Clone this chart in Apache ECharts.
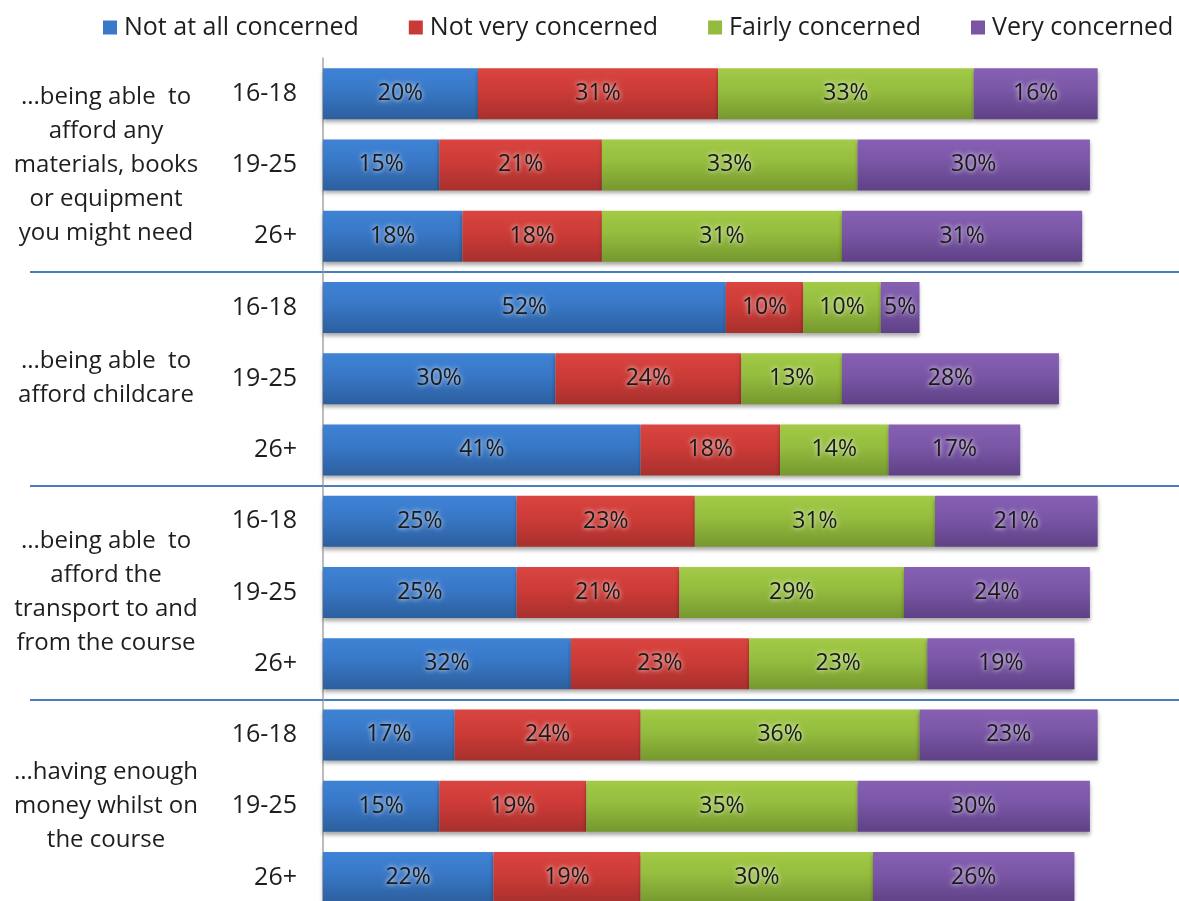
<!DOCTYPE html>
<html>
<head>
<meta charset="utf-8">
<script src="https://cdn.jsdelivr.net/npm/echarts@6/dist/echarts.min.js"></script>
<style>
  html, body { margin: 0; padding: 0; background: #ffffff; overflow: hidden; }
  #chart { width: 1179px; height: 916px; }
</style>
</head>
<body>
<div id="chart"></div>
<script>
// Age bands, one row per bar (top to bottom)
const ageBands = ['16-18', '19-25', '26+', '16-18', '19-25', '26+',
                  '16-18', '19-25', '26+', '16-18', '19-25', '26+'];

// Question groups, each covering three age bands
const questions = [
  '...being able  to\nafford any\nmaterials, books\nor equipment\nyou might need',
  '...being able  to\nafford childcare',
  '...being able  to\nafford the\ntransport to and\nfrom the course',
  '...having enough\nmoney whilst on\nthe course'
];

const seriesNames = ['Not at all concerned', 'Not very concerned', 'Fairly concerned', 'Very concerned'];

// Percentages per row
const notAtAll  = [20, 15, 18, 52, 30, 41, 25, 25, 32, 17, 15, 22];
const notVery   = [31, 21, 18, 10, 24, 18, 23, 21, 23, 24, 19, 19];
const fairly    = [33, 33, 31, 10, 13, 14, 31, 29, 23, 36, 35, 30];
const veryConc  = [16, 30, 31,  5, 28, 17, 21, 24, 19, 23, 30, 26];

const FONT = '"Open Sans", Lato, sans-serif';

function shade(top, mid, bottom) {
  return new echarts.graphic.LinearGradient(0, 0, 0, 1, [
    { offset: 0, color: top },
    { offset: 0.45, color: mid },
    { offset: 1, color: bottom }
  ]);
}

const fills = [
  shade('#3f83d6', '#3877c6', '#2c5f9e'),
  shade('#da4541', '#cc3b37', '#a8302d'),
  shade('#a3cb47', '#94bc3e', '#76982f'),
  shade('#8760b4', '#7a56a6', '#5f4186')
];
const legendColors = ['#3a78c8', '#c93a36', '#94bb40', '#7a55a4'];

const values = [notAtAll, notVery, fairly, veryConc];

const series = seriesNames.map((name, i) => ({
  name: name,
  type: 'bar',
  stack: 'total',
  barWidth: 51,
  data: values[i],
  itemStyle: {
    color: fills[i],
    shadowColor: 'rgba(0,0,0,0.35)',
    shadowBlur: 4,
    shadowOffsetY: 3
  },
  label: {
    show: true,
    position: 'inside',
    formatter: '{c}%',
    fontFamily: FONT,
    fontSize: 23,
    color: '#1a1a1a',
    textBorderWidth: 0,
    textShadowColor: 'rgba(255,255,255,1)',
    textShadowBlur: 5
  }
}));

const chart = echarts.init(document.getElementById('chart'), null, { renderer: 'canvas' });

chart.setOption({
  backgroundColor: '#ffffff',
  animation: false,
  color: legendColors,
  legend: {
    top: 10,
    left: 98,
    itemWidth: 14,
    itemHeight: 14,
    itemGap: 50,
    icon: 'rect',
    textStyle: { fontFamily: FONT, fontSize: 25, color: '#1e1e1e', padding: [0, 0, 0, 2] },
    data: seriesNames.map((n, i) => ({ name: n, itemStyle: { color: legendColors[i] } }))
  },
  grid: { left: 323, top: 58, width: 856, height: 855, containLabel: false },
  xAxis: {
    type: 'value',
    min: 0,
    max: 110.5,
    show: false
  },
  yAxis: [
    {
      type: 'category',
      inverse: true,
      data: ageBands,
      axisLine: { show: true, lineStyle: { color: '#a6a6a6', width: 1.5 } },
      axisTick: { show: false },
      axisLabel: { fontFamily: FONT, fontSize: 25, color: '#1e1e1e', margin: 26 }
    },
    {
      type: 'category',
      inverse: true,
      position: 'left',
      data: questions,
      axisLine: { show: false },
      axisTick: {
        show: true,
        length: 293,
        interval: (idx) => idx !== 0,
        lineStyle: { color: '#4a7ebb', width: 2 }
      },
      splitLine: {
        show: true,
        interval: (idx) => idx !== 0,
        lineStyle: { color: '#4a7ebb', width: 2 }
      },
      axisLabel: {
        fontFamily: FONT,
        fontSize: 24,
        color: '#1e1e1e',
        align: 'center',
        lineHeight: 34,
        margin: 217
      }
    }
  ],
  series: series
});
</script>
</body>
</html>
